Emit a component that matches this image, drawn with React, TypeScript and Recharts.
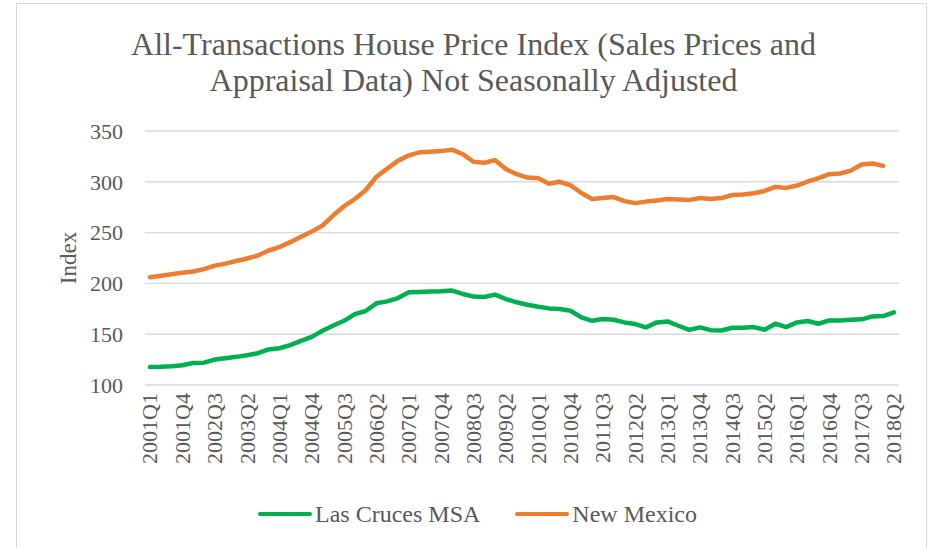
import React from "react";
import { LineChart, Line, XAxis, YAxis, CartesianGrid } from "recharts";

const quarters: string[] = [];
for (let y = 2001; y <= 2018; y++) {
  for (let q = 1; q <= 4; q++) {
    if (y === 2018 && q > 2) break;
    quarters.push(`${y}Q${q}`);
  }
}

const lasCruces = [
  117.8, 118, 118.5, 119.4, 121.7, 122, 125, 126.4, 127.7, 129.3,
  131.3, 135, 136.2, 139.2, 143.5, 147.4, 153.4, 158.6, 163.2, 169.8,
  172.8, 180.4, 182.3, 185.6, 191.2, 191.6, 192, 192.2, 192.9, 189.6,
  187, 186.6, 189, 184.6, 181.4, 179, 177, 175.4, 174.8, 173.1,
  166.5, 163.2, 164.9, 164.2, 161.6, 160, 156.7, 161.6, 162.6, 158.3,
  154.3, 156.7, 154, 153.7, 156.3, 156.3, 157, 154.3, 160.3, 157,
  161.6, 163, 160.3, 163.6, 163.6, 164.2, 164.6, 167.5, 167.9, 171.5,
];

const newMexico: (number | null)[] = [
  206, 207.5, 209, 210.5, 211.7, 214, 217.5, 219.5, 222, 224.5,
  227.5, 232.4, 235.7, 240.6, 246, 251, 257, 267, 276, 283,
  291.7, 305, 313, 320.7, 326, 329, 329.6, 330.2, 331.6, 327.3,
  319.7, 318.7, 321.3, 312.5, 307.5, 304.2, 303.6, 298, 300, 296.6,
  289, 283, 284, 285, 281, 279, 280.5, 281.5, 283, 282.6,
  282, 284, 283, 284, 287, 287.6, 288.7, 291, 295, 294,
  296.3, 300.3, 303.6, 307.5, 308.2, 311, 317, 318, 315.7, null,
];

const yTicks = [100, 150, 200, 250, 300, 350];

const GREEN = "#00B050";
const ORANGE = "#ED7D31";
const TEXT = "#595959";
const FONT = "'Liberation Serif', 'Times New Roman', serif";

const data = quarters.map((q, i) => ({
  quarter: q,
  lasCruces: lasCruces[i],
  newMexico: newMexico[i],
}));

function QuarterTick({ x, y, payload }: any) {
  return (
    <text
      x={x}
      y={y}
      transform={`rotate(-90, ${x}, ${y})`}
      textAnchor="end"
      dy="0.34em"
      fill={TEXT}
      fontSize={22}
      fontFamily={FONT}
    >
      {payload.value}
    </text>
  );
}

export default function App() {
  return (
    <div
      style={{
        position: "absolute",
        left: 0,
        top: 0,
        width: 934,
        height: 548,
        overflow: "hidden",
        background: "#fff",
        fontFamily: FONT,
      }}
    >
      <div
        style={{
          position: "absolute",
          left: 16,
          top: 3,
          width: 911,
          height: 600,
          border: "1.5px solid #D9D9D9",
          boxSizing: "border-box",
        }}
      />
      <div
        style={{
          position: "absolute",
          left: 0,
          top: 26,
          width: 947,
          textAlign: "center",
          fontSize: 32,
          lineHeight: "36px",
          color: TEXT,
        }}
      >
        All-Transactions House Price Index (Sales Prices and
        <br />
        Appraisal Data) Not Seasonally Adjusted
      </div>
      <div style={{ position: "absolute", left: 0, top: 0 }}>
        <LineChart
          width={934}
          height={548}
          data={data}
          margin={{ top: 131, right: 35, left: 0, bottom: 0 }}
        >
          <CartesianGrid vertical={false} stroke="#D9D9D9" strokeWidth={1.4} />
          <XAxis
            dataKey="quarter"
            interval={2}
            height={163}
            tick={<QuarterTick />}
            tickLine={false}
            axisLine={false}
            tickMargin={2}
            padding={{ left: 5, right: 5 }}
          />
          <YAxis
            domain={[100, 350]}
            ticks={yTicks}
            width={145}
            tickLine={false}
            axisLine={false}
            tickMargin={16}
            tick={{ fill: TEXT, fontSize: 22, fontFamily: FONT }}
            label={{
              value: "Index",
              angle: -90,
              position: "center",
              dx: -5,
              fill: TEXT,
              fontSize: 23,
              fontFamily: FONT,
            }}
          />
          <Line
            dataKey="lasCruces"
            stroke={GREEN}
            strokeWidth={4.5}
            dot={false}
            isAnimationActive={false}
            strokeLinejoin="round"
            strokeLinecap="round"
          />
          <Line
            dataKey="newMexico"
            stroke={ORANGE}
            strokeWidth={4.5}
            dot={false}
            isAnimationActive={false}
            strokeLinejoin="round"
            strokeLinecap="round"
          />
        </LineChart>
      </div>
      <div
        style={{
          position: "absolute",
          left: 258,
          top: 500,
          display: "flex",
          alignItems: "center",
          fontSize: 24,
          lineHeight: "28px",
          color: TEXT,
        }}
      >
        <span style={{ width: 54, height: 4.5, background: GREEN, borderRadius: 3, marginRight: 3 }} />
        <span>Las Cruces MSA</span>
        <span style={{ width: 54, height: 4.5, background: ORANGE, borderRadius: 3, marginLeft: 35, marginRight: 3 }} />
        <span>New Mexico</span>
      </div>
    </div>
  );
}
